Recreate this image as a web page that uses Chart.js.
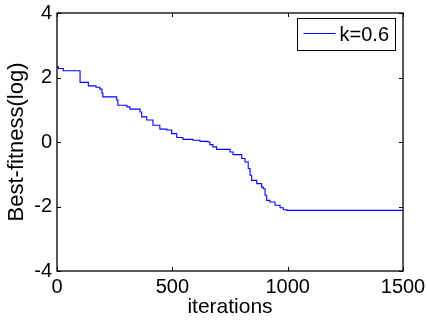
<!DOCTYPE html>
<html>
<head>
<meta charset="utf-8">
<script src="https://cdn.jsdelivr.net/npm/chart.js@4/dist/chart.umd.min.js"></script>
<style>
html,body{margin:0;padding:0;background:#fff;}
canvas{display:block;}
</style>
</head>
<body>
<canvas id="c" width="427" height="323"></canvas>
<script>
const seriesLabel = 'k=0.6';
const iterations = [0, 6, 27, 100, 136, 169, 186, 195, 199, 259, 264, 303, 316, 360, 367, 389, 416, 446, 476, 497, 519, 546, 590, 620, 655, 663, 676, 692, 750, 763, 801, 815, 829, 837, 844, 866, 887, 894, 902, 909, 923, 945, 967, 981, 996, 1500];
const fitness = [2.33, 2.28, 2.21, 1.85, 1.74, 1.70, 1.64, 1.51, 1.40, 1.30, 1.14, 1.09, 1.02, 0.93, 0.78, 0.68, 0.52, 0.40, 0.37, 0.26, 0.14, 0.08, 0.055, 0.02, 0.00, -0.08, -0.15, -0.23, -0.31, -0.39, -0.51, -0.62, -0.82, -1.03, -1.19, -1.29, -1.40, -1.45, -1.65, -1.81, -1.86, -1.96, -2.04, -2.10, -2.12, -2.12];
const xTicks = [0, 500, 1000, 1500];
const yTicks = [-4, -2, 0, 2, 4];

const FONT = '"Liberation Sans", Arial, Helvetica, sans-serif';

const framePlugin = {
  id: 'frame',
  afterDraw(chart) {
    const {ctx, chartArea: {left, right, top, bottom}, scales: {x, y}} = chart;
    ctx.save();
    ctx.strokeStyle = '#000';
    ctx.lineWidth = 1.3;
    ctx.strokeRect(left, top, right - left, bottom - top);
    ctx.lineWidth = 1;
    const tl = 4;
    ctx.beginPath();
    xTicks.forEach(v => {
      const px = Math.round(x.getPixelForValue(v)) + 0.5;
      ctx.moveTo(px, bottom); ctx.lineTo(px, bottom - tl);
      ctx.moveTo(px, top); ctx.lineTo(px, top + tl);
    });
    yTicks.forEach(v => {
      const py = Math.round(y.getPixelForValue(v)) + 0.5;
      ctx.moveTo(left, py); ctx.lineTo(left + tl, py);
      ctx.moveTo(right, py); ctx.lineTo(right - tl, py);
    });
    ctx.stroke();

    // legend box
    const ds = chart.data.datasets[0];
    ctx.font = '20px ' + FONT;
    const tw = ctx.measureText(ds.label).width;
    const boxW = 43 + tw + 6;
    const boxR = right - 8;
    const boxL = boxR - boxW;
    const boxT = top + 5;
    const boxH = 32;
    ctx.fillStyle = '#fff';
    ctx.fillRect(boxL, boxT, boxW, boxH);
    ctx.strokeStyle = '#000';
    ctx.lineWidth = 1;
    ctx.strokeRect(Math.round(boxL) + 0.5, Math.round(boxT) + 0.5, Math.round(boxW), boxH);
    ctx.strokeStyle = ds.borderColor;
    ctx.beginPath();
    ctx.moveTo(boxL + 7, boxT + 15.5);
    ctx.lineTo(boxL + 39, boxT + 15.5);
    ctx.stroke();
    ctx.fillStyle = '#000';
    ctx.textBaseline = 'middle';
    ctx.textAlign = 'left';
    ctx.fillText(ds.label, boxL + 43, boxT + boxH / 2 + 1);
    ctx.restore();
  }
};

new Chart(document.getElementById('c'), {
  type: 'line',
  data: {
    datasets: [{
      label: seriesLabel,
      data: iterations.map((v, i) => ({x: v, y: fitness[i]})),
      borderColor: '#0000ff',
      borderWidth: 1.1,
      pointRadius: 0,
      stepped: 'before',
      fill: false
    }]
  },
  options: {
    responsive: false,
    animation: false,
    layout: {padding: {top: 13, right: 24, left: 0, bottom: 0}},
    plugins: {legend: {display: false}, tooltip: {enabled: false}},
    scales: {
      x: {
        type: 'linear',
        min: 0, max: 1500,
        afterBuildTicks: s => { s.ticks = xTicks.map(v => ({value: v})); },
        afterFit: s => { s.height = 52; s.paddingLeft = 0; s.paddingRight = 0; },
        grid: {display: false, drawTicks: false},
        border: {display: false},
        ticks: {color: '#000', font: {family: FONT, size: 20}, padding: 4, maxRotation: 0, autoSkip: false, callback: v => String(v)},
        title: {display: true, text: 'iterations', color: '#000', font: {family: FONT, size: 21}, padding: {top: 0, bottom: 3}}
      },
      y: {
        min: -4, max: 4,
        afterBuildTicks: s => { s.ticks = yTicks.map(v => ({value: v})); },
        afterFit: s => { s.width = 57; s.paddingTop = 0; s.paddingBottom = 0; },
        grid: {display: false, drawTicks: false},
        border: {display: false},
        ticks: {color: '#000', font: {family: FONT, size: 20}, padding: 5, autoSkip: false, callback: v => String(v)},
        title: {display: true, text: 'Best-fitness(log)', color: '#000', font: {family: FONT, size: 22}, padding: {top: 4, bottom: 0}}
      }
    }
  },
  plugins: [framePlugin]
});
</script>
</body>
</html>
